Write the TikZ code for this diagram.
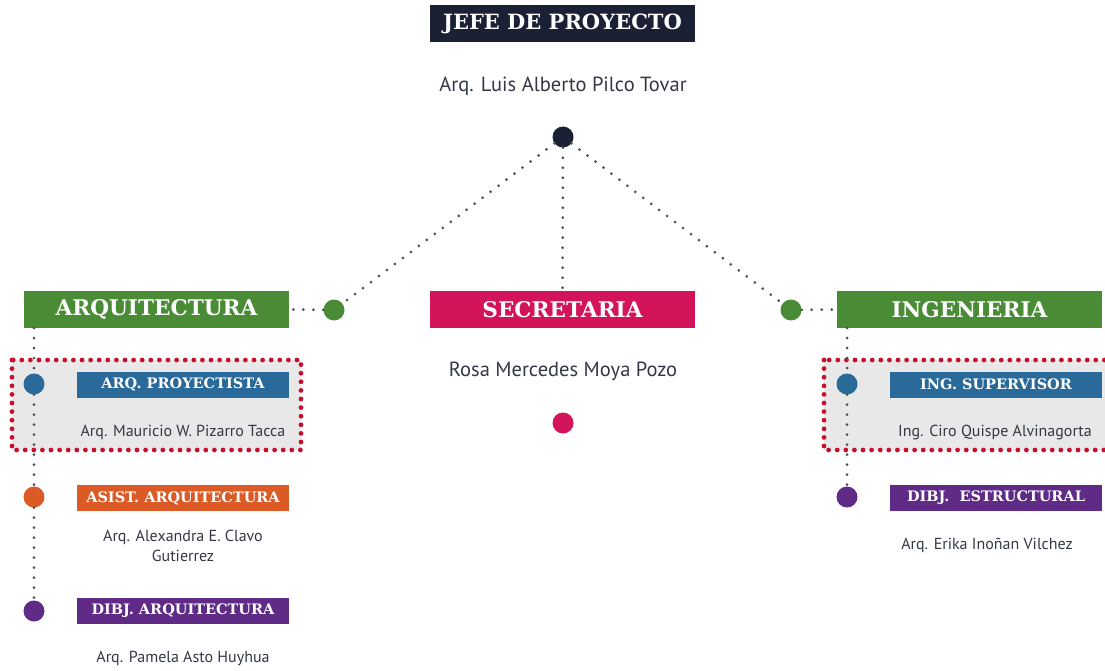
\documentclass[tikz,border=0pt]{standalone}
\usepackage{fontspec}
\setmainfont{PT Sans}
\newfontfamily\slab{DejaVu Serif}[BoldFont={DejaVu Serif Bold}]
\begin{document}
\begin{tikzpicture}[x=1pt,y=-1pt,
  headbox/.style={fill=#1,text=white,minimum height=37pt,minimum width=265pt,inner sep=0pt,font=\slab\bfseries\fontsize{21.6}{22}\selectfont},
  subbox/.style={fill=#1,text=white,minimum height=26pt,minimum width=212pt,inner sep=0pt,font=\slab\bfseries\fontsize{14.5}{16}\selectfont},
  nametxt/.style={text=txt,font=\fontsize{16}{19}\selectfont,inner sep=0pt,align=center},
  bignametxt/.style={text=txt,font=\fontsize{20.5}{24}\selectfont,inner sep=0pt},
  ball/.style={circle,fill=#1,minimum size=21pt,inner sep=0pt},
  conn/.style={draw=dotc,line width=3pt,line cap=round,dash pattern=on 0pt off 10pt},
  hlbox/.style={fill=hlgray,draw=hlred,line width=4.8pt,line cap=round,dash pattern=on 0pt off 8.6pt}
]
\definecolor{navy}{HTML}{1C2035}
\definecolor{grn}{HTML}{4A8C36}
\definecolor{crim}{HTML}{D3145A}
\definecolor{blu}{HTML}{2A6A9A}
\definecolor{orng}{HTML}{DC5A26}
\definecolor{purp}{HTML}{5F2B87}
\definecolor{txt}{HTML}{333844}
\definecolor{dotc}{HTML}{4A4E55}
\definecolor{hlgray}{HTML}{E8E8E8}
\definecolor{hlred}{HTML}{C8102E}
\useasboundingbox (0,0) rectangle (1105,671);
% highlight rectangles
\path[hlbox] (12,360) rectangle (301,450);
\path[hlbox] (824,360) rectangle (1115,450);
% top
\node[headbox=navy,font=\slab\bfseries\fontsize{21}{22}\selectfont] (jefe) at (562.5,24) {JEFE DE PROYECTO};
\node[bignametxt] (jefen) at (563,86) {Arq. Luis Alberto Pilco Tovar};
\node[ball=navy] (jd) at (563,137) {};
% level 2
\node[headbox=grn] (arq) at (156.5,309.5) {ARQUITECTURA};
\node[headbox=crim] (sec) at (562.5,309.5) {SECRETARIA};
\node[headbox=grn] (ing) at (969.5,309.5) {INGENIERIA};
\node[ball=grn] (ad) at (334,310) {};
\node[ball=grn] (id) at (791,310) {};
\node[bignametxt] (secn) at (563,371) {Rosa Mercedes Moya Pozo};
\node[ball=crim] (sd) at (563,423) {};
% connectors top
\draw[conn] (jd) -- (ad);
\draw[conn] (jd) -- (id);
\draw[conn] (jd) -- (sec);
\draw[conn] (ad) -- (arq.east);
\draw[conn] (id) -- (ing.west);
% left column
\node[ball=blu] (d1) at (34,384) {};
\node[ball=orng] (d2) at (34,497) {};
\node[ball=purp] (d3) at (34,611) {};
\coordinate (atop) at (34,328);
\draw[conn] (atop) -- (d1);
\draw[conn] (d1) -- (d2);
\draw[conn] (d2) -- (d3);
\node[subbox=blu] (p1) at (183,384.5) {ARQ. PROYECTISTA};
\node[nametxt] (n1) at (183,432) {Arq. Mauricio W. Pizarro Tacca};
\node[subbox=orng] (p2) at (183,498) {ASIST. ARQUITECTURA};
\node[nametxt] (n2) at (183,545.5) {Arq. Alexandra E. Clavo\\[1pt]Gutierrez};
\node[subbox=purp] (p3) at (183,611) {DIBJ. ARQUITECTURA};
\node[nametxt] (n3) at (183,658) {Arq. Pamela Asto Huyhua};
% right column
\node[ball=blu] (e1) at (847,384) {};
\node[ball=purp] (e2) at (847,497) {};
\coordinate (itop) at (847,328);
\draw[conn] (itop) -- (e1);
\draw[conn] (e1) -- (e2);
\node[subbox=blu] (q1) at (996,384.5) {ING. SUPERVISOR};
\node[nametxt] (m1) at (995,432) {Ing. Ciro Quispe Alvinagorta};
\node[subbox=purp] (q2) at (996,498) {DIBJ.\ \ ESTRUCTURAL};
\node[nametxt] (m2) at (987,545) {Arq. Erika Inoñan Vilchez};
\end{tikzpicture}
\end{document}
